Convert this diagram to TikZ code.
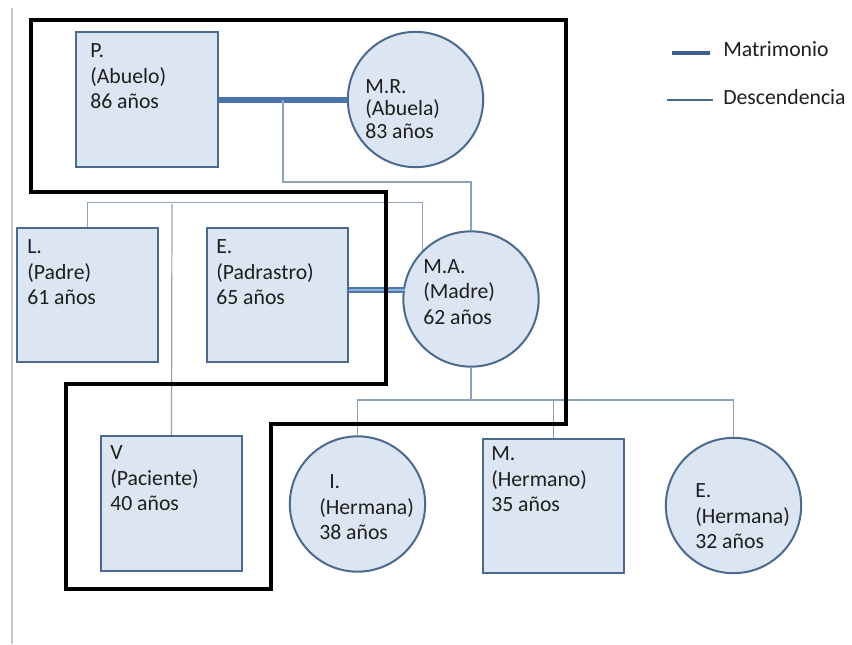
\documentclass[tikz,border=0pt]{standalone}
\usepackage{fontspec}
\setmainfont{Carlito}
\definecolor{pfill}{HTML}{DCE6F2}
\definecolor{bord}{HTML}{4B6A8E}
\definecolor{desc}{HTML}{8FA3B8}
\definecolor{marr}{HTML}{4C76AA}
\definecolor{marrin}{HTML}{8FB0D6}
\definecolor{legm}{HTML}{3F5E8E}
\definecolor{ink}{HTML}{1E1E1E}
\begin{document}
\begin{tikzpicture}[x=0.75pt,y=-0.75pt,
  pbox/.style={draw=bord, fill=pfill, line width=1.5pt, rectangle, minimum width=106pt, minimum height=101pt, inner sep=0pt},
  pcirc/.style={draw=bord, fill=pfill, line width=1.5pt, circle, minimum size=101.5pt, inner sep=0pt},
  txt/.style={anchor=north west, align=left, inner sep=0pt, text=ink, font=\fontsize{16.3pt}{19.2pt}\selectfont},
  txtc/.style={txt, font=\fontsize{16.3pt}{17pt}\selectfont},
  legtxt/.style={anchor=west, inner sep=0pt, text=ink, font=\fontsize{16.3pt}{19pt}\selectfont},
  desc line/.style={draw=desc, line width=0.9pt},
  marr line/.style={draw=marr, line width=4.5pt},
  outline/.style={draw=black, line width=3pt, line join=miter}
]
\useasboundingbox (0,0) rectangle (852,644);
\fill[white] (0,0) rectangle (852,644);
\draw[black!22, line width=0.8pt] (12,8) -- (12,644);

% persons
\node[pbox] (P) at (147,99.5) {};
\node[pcirc] (MR) at (415.5,99.5) {};
\node[pbox] (L) at (87.5,295) {};
\node[pbox] (E) at (277.5,295) {};
\node[pcirc] (MA) at (471,299) {};
\node[pbox] (V) at (171.5,503.5) {};
\node[pcirc] (I) at (357.5,504) {};
\node[pbox] (M) at (553.5,506) {};
\node[pcirc] (Ec) at (733.5,505.5) {};

% texts
\node[txt] (tP) at (90,43.5) {P.\\(Abuelo)\\86 años};
\node[txtc] (tMR) at (365,79) {M.R.\\(Abuela)\\83 años};
\node[txt] (tL) at (27,239.5) {L.\\(Padre)\\61 años};
\node[txt] (tE) at (216,239.5) {E.\\(Padrastro)\\65 años};
\node[txt] (tMA) at (423,259) {M.A.\\(Madre)\\62 años};
\node[txt] (tV) at (110,445.5) {V\\(Paciente)\\40 años};
\node[txt] (tI) at (319,474.5) {\hspace{7.5pt}I.\\(Hermana)\\38 años};
\node[txt] (tM) at (491,446.5) {M.\\(Hermano)\\35 años};
\node[txt] (tEc) at (695,483.5) {E.\\(Hermana)\\32 años};

% marriage P - MR
\draw[marr line] (P.east) -- (MR.west);
\coordinate (m1) at (283,99.5);
\draw[desc line] (m1) -- ++(0,82.5) -| (MA.north);

% L - MA descent with V
\draw[desc line] (L.north) -- ++(0,-24) -| (MA.north west);
\coordinate (lv) at (172,204);
\draw[desc line] (lv) -- (V.north);

% marriage E - MA
\path (MA.center) ++(-66.4,-9) coordinate (maw);
\draw[draw=marr, line width=5pt] (E.east |- maw) -- (maw);
\draw[draw=marrin, line width=1.6pt] (E.east |- maw) -- (maw);

% children of MA
\coordinate (cb) at (471,400);
\draw[desc line] (MA.south) -- (cb);
\draw[desc line] (I.north) -- (I.north |- cb) -- (Ec.north |- cb) -- (Ec.north);
\draw[desc line] (M.north) -- (M.north |- cb);

% outline
\draw[outline] (31,20) -- (566,20) -- (566,424) -- (271,424) -- (271,589) -- (66,589) -- (66,384) -- (386,384) -- (386,192) -- (31,192) -- cycle;

% legend
\coordinate (lg1a) at (672,53);
\coordinate (lg1b) at (710,53);
\draw[draw=legm, line width=3.5pt] (lg1a) -- (lg1b);
\node[legtxt] (lgM) at (723,49) {Matrimonio};
\coordinate (lg2a) at (667,100);
\coordinate (lg2b) at (713,100);
\draw[draw=bord, line width=0.8pt] (lg2a) -- (lg2b);
\node[legtxt] (lgD) at (723,97) {Descendencia};
\end{tikzpicture}
\end{document}
